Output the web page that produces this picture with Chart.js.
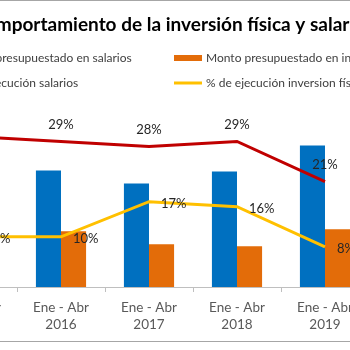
<!DOCTYPE html>
<html>
<head>
<meta charset="utf-8">
<script src="https://cdn.jsdelivr.net/npm/chart.js@4/dist/chart.umd.min.js"></script>
<style>
  html,body{margin:0;padding:0;background:#fff;overflow:hidden;width:350px;height:350px;}
  #wrap{position:absolute;left:-82px;top:0;width:508px;height:340px;border:1px solid #a6a6a6;}
  canvas{display:block;}
</style>
</head>
<body>
<div id="wrap"><canvas id="c" width="508" height="340"></canvas></div>
<script>
// data (2015 column sits outside the visible crop)
const categories = [['Ene - Abr','2015'],['Ene - Abr','2016'],['Ene - Abr','2017'],['Ene - Abr','2018'],['Ene - Abr','2019']];
const montoSalarios = [118, 125.8, 111.8, 124.7, 152.7];
const montoInversion = [58, 60.2, 46.2, 44.1, 62.4];
const ejecSalarios = [30, 29, 28, 29, 21];
const ejecInversion = [10, 10, 17, 16, 8];
const seriesNames = ['Monto presupuestado en salarios','Monto presupuestado en inversión física','% de ejecución salarios','% de ejecución inversion física'];

const FONT = 'Lato, "Noto Sans", sans-serif';

// point labels (red above, yellow to the right)
const pointLabels = {
  id:'pointLabels',
  afterDatasetsDraw(chart){
    const ctx = chart.ctx;
    ctx.save();
    ctx.font = '13px ' + FONT;
    ctx.fillStyle = '#262626';
    ctx.textBaseline = 'middle';
    [2,3].forEach(di => {
      const meta = chart.getDatasetMeta(di);
      const vals = chart.data.datasets[di].data;
      meta.data.forEach((pt,i) => {
        if(di === 2){ ctx.textAlign = 'center'; ctx.fillText(vals[i]+'%', pt.x, pt.y-17); }
        else { ctx.textAlign = 'left'; ctx.fillText(vals[i]+'%', pt.x+12, pt.y+2); }
      });
    });
    ctx.restore();
  }
};

// two-column legend like the Excel one
const colLegend = {
  id:'colLegend',
  afterDraw(chart){
    const ctx = chart.ctx;
    const cols = [6, 255], rows = [57, 82];
    ctx.save();
    ctx.font = '12px ' + FONT;
    ctx.fillStyle = '#404040';
    ctx.textBaseline = 'middle';
    ctx.textAlign = 'left';
    chart.data.datasets.forEach((ds,i) => {
      const x = cols[i%2], y = rows[Math.floor(i/2)];
      if(ds.type === 'line'){
        ctx.strokeStyle = ds.borderColor; ctx.lineWidth = 3;
        ctx.beginPath(); ctx.moveTo(x, y); ctx.lineTo(x+28, y); ctx.stroke();
      } else {
        ctx.fillStyle = ds.backgroundColor; ctx.fillRect(x, y-3, 28, 6);
      }
      ctx.fillStyle = '#404040';
      ctx.fillText(ds.label, x+32, y);
    });
    ctx.restore();
  }
};

new Chart(document.getElementById('c').getContext('2d'), {
  type:'bar',
  data:{
    labels:categories,
    datasets:[
      {label:seriesNames[0],data:montoSalarios,backgroundColor:'#0070C0',yAxisID:'y',order:2,barPercentage:1,categoryPercentage:0.57},
      {label:seriesNames[1],data:montoInversion,backgroundColor:'#E36C09',yAxisID:'y',order:2,barPercentage:1,categoryPercentage:0.57},
      {type:'line',label:seriesNames[2],data:ejecSalarios,borderColor:'#C00000',borderWidth:3,pointRadius:0,yAxisID:'y1',order:1},
      {type:'line',label:seriesNames[3],data:ejecInversion,borderColor:'#FFC000',borderWidth:3,pointRadius:0,yAxisID:'y1',order:1}
    ]
  },
  options:{
    responsive:false,animation:false,devicePixelRatio:1,
    layout:{padding:0},
    plugins:{
      legend:{display:false},tooltip:{enabled:false},
      title:{display:true,text:'Comportamiento de la inversión física y salarios',color:'#000',
        font:{family:FONT,size:19,weight:'bold',lineHeight:1.2},padding:{top:12,bottom:66}}
    },
    scales:{
      x:{
        grid:{display:true,offset:true,drawOnChartArea:false,drawTicks:true,tickLength:5,color:'#bfbfbf'},
        border:{display:true,color:'#bfbfbf'},
        ticks:{color:'#595959',font:{family:FONT,size:13.5,lineHeight:1.25},padding:7,maxRotation:0,autoSkip:false},
        afterFit(a){ a.height = 54; }
      },
      y:{position:'left',min:0,max:200,ticks:{display:false},grid:{display:false},border:{display:false},
        afterFit(a){ a.width = 10; }},
      y1:{position:'right',min:0,max:36.9,ticks:{display:false},grid:{display:false},border:{display:false},
        afterFit(a){ a.width = 58; }}
    }
  },
  plugins:[pointLabels,colLegend]
});
</script>
</body>
</html>
